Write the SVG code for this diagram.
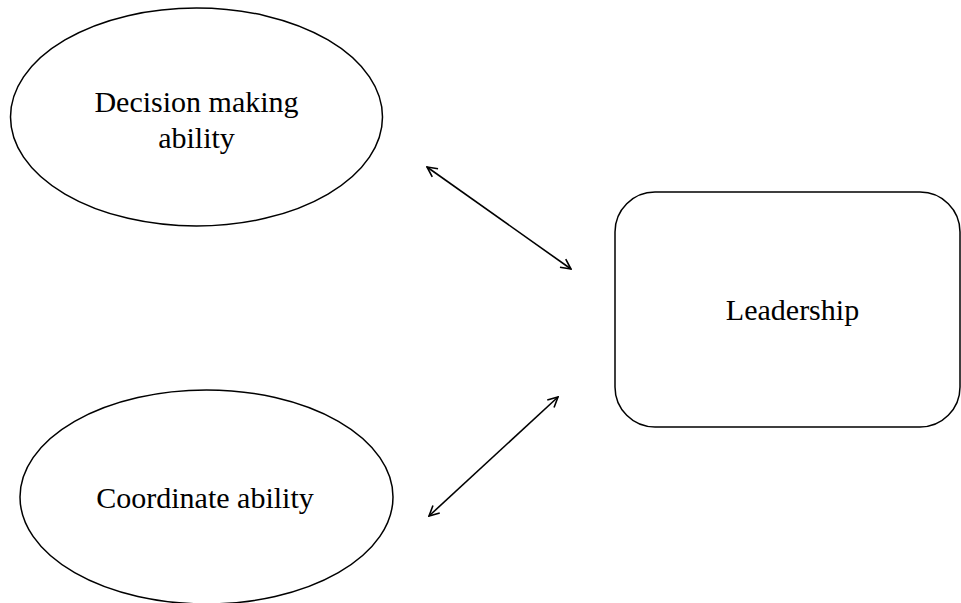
<svg xmlns="http://www.w3.org/2000/svg" width="961" height="603" viewBox="0 0 961 603">
<style>
.shape{fill:#fff;stroke:#000;stroke-width:1.5}
.lbl{font-family:"Liberation Serif","Times New Roman",serif;font-size:30px;fill:#000;text-anchor:middle}
.conn{stroke:#000;stroke-width:1.6;fill:none;marker-start:url(#arr);marker-end:url(#arr)}
</style>
<defs>
<marker id="arr" viewBox="0 0 12 12" refX="11" refY="6" markerWidth="12" markerHeight="12" markerUnits="userSpaceOnUse" orient="auto-start-reverse">
<path d="M1,1 L11,6 L1,11" fill="none" stroke="#000" stroke-width="1.6"/>
</marker>
</defs>
<rect width="961" height="603" fill="#fff"/>
<g id="decision">
<ellipse class="shape" cx="196.5" cy="117" rx="186" ry="109"/>
<text class="lbl" x="196.5" y="112">Decision making</text>
<text class="lbl" x="196.5" y="148">ability</text>
</g>
<g id="coordinate">
<ellipse class="shape" cx="206.5" cy="497" rx="186.5" ry="107"/>
<text class="lbl" x="205" y="508">Coordinate ability</text>
</g>
<g id="leadership">
<rect class="shape" x="615" y="192" width="345" height="235" rx="40" ry="40"/>
<text class="lbl" x="792.5" y="320">Leadership</text>
</g>
<g id="connectors">
<line class="conn" x1="427" y1="167" x2="571" y2="269"/>
<line class="conn" x1="558" y1="397" x2="429" y2="516"/>
</g>
</svg>
